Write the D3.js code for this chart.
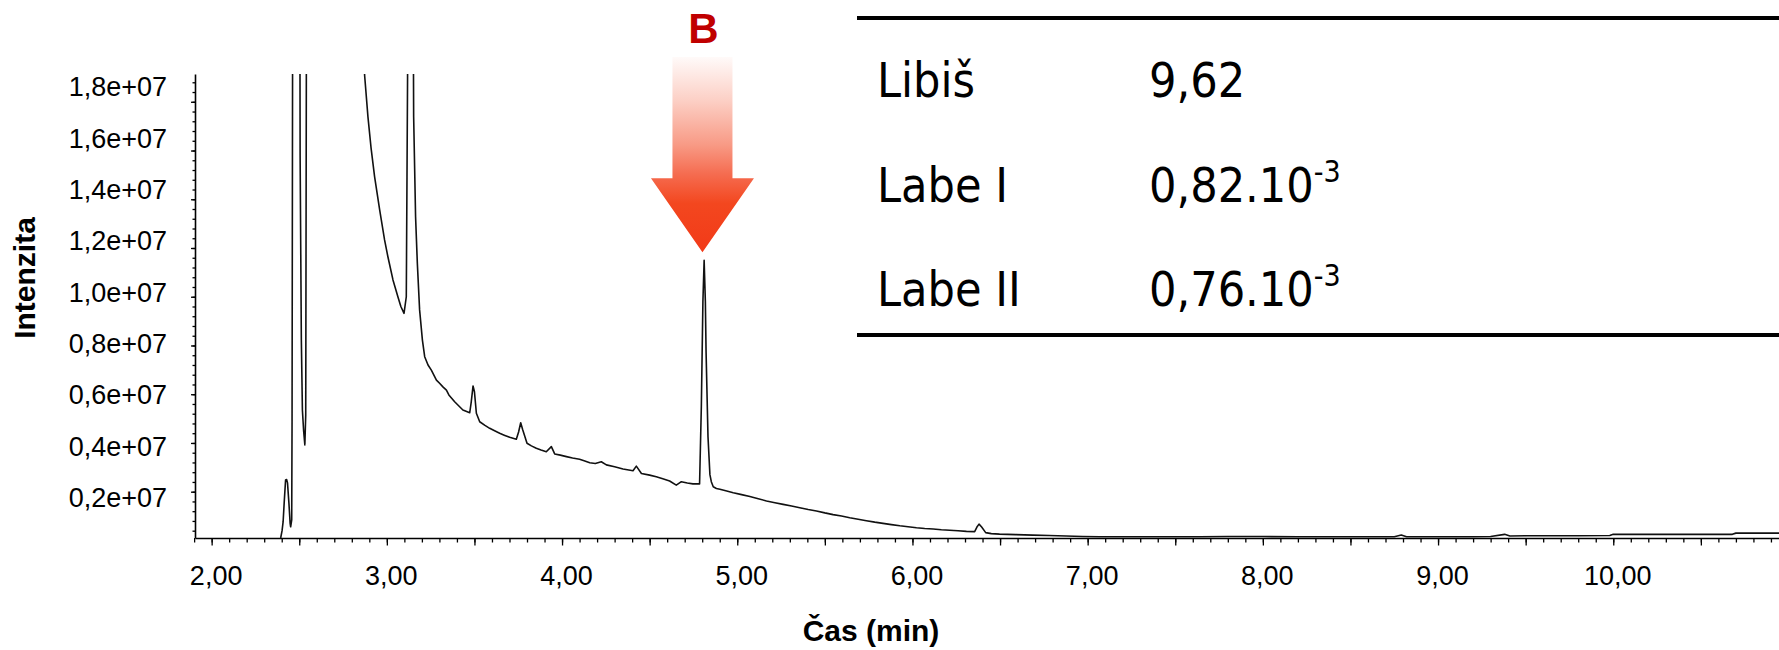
<!DOCTYPE html>
<html>
<head>
<meta charset="utf-8">
<script src="https://cdnjs.cloudflare.com/ajax/libs/d3/7.8.5/d3.min.js"></script>
<style>
  body { margin: 0; background: #fff; }
  .tick text { font-family: "Liberation Sans", Arial, sans-serif; font-size: 27px; fill: #000; }
  .axis-title { font-family: "Liberation Sans", Arial, sans-serif; font-size: 30px; font-weight: bold; }
  .tbl { font-family: "DejaVu Sans Condensed", "DejaVu Sans", sans-serif; font-size: 48px; fill: #000; }
</style>
</head>
<body>
<div class="chart"></div>
<script>
var svgWidth = 1779;
var svgHeight = 650;

var margin = {
  top: 74,
  right: 0,
  bottom: 112,
  left: 195
};

var width = svgWidth - margin.left - margin.right;
var height = svgHeight - margin.top - margin.bottom;

// ====== data ======
// retention time (min)
var timeMin = [
  2.394, 2.402, 2.408, 2.414, 2.422, 2.428, 2.433, 2.441, 2.448, 2.451, 2.457, 2.459, 2.463,
  2.503, 2.505, 2.512, 2.518, 2.525, 2.532, 2.537, 2.542,
  2.86, 2.873, 2.892, 2.91, 2.93, 2.959, 2.987, 3.006, 3.035, 3.063, 3.08, 3.098, 3.111, 3.115, 3.123,
  3.149, 3.153, 3.164, 3.174, 3.187, 3.203, 3.216, 3.235, 3.254, 3.283, 3.301, 3.32, 3.34, 3.354,
  3.387, 3.434, 3.473, 3.482, 3.492, 3.5, 3.511, 3.53, 3.56, 3.587, 3.615, 3.644, 3.67, 3.701,
  3.739, 3.752, 3.764, 3.775, 3.8, 3.825, 3.853, 3.88, 3.91, 3.939, 3.958, 3.99, 4.025, 4.06,
  4.1, 4.13, 4.158, 4.19, 4.224, 4.253, 4.3, 4.348, 4.405, 4.424, 4.453, 4.5, 4.538, 4.575,
  4.614, 4.652, 4.681, 4.715, 4.747, 4.785, 4.795, 4.804, 4.811, 4.818, 4.822, 4.833, 4.844,
  4.852, 4.863, 4.881, 4.901, 4.94, 4.977, 5.025, 5.072, 5.12, 5.167, 5.215, 5.262, 5.31,
  5.357, 5.405, 5.452, 5.5, 5.547, 5.595, 5.642, 5.69, 5.737, 5.785, 5.832, 5.88, 5.928,
  5.975, 6.023, 6.07, 6.118, 6.165, 6.213, 6.26, 6.308, 6.355, 6.368, 6.38, 6.395, 6.418,
  6.45, 6.497, 6.59, 6.687, 6.78, 6.877, 6.97, 7.068, 7.3, 7.638, 7.8, 8.0, 8.2, 8.5, 8.75,
  8.79, 8.82, 9.2, 9.3, 9.38, 9.41, 9.5, 9.8, 9.98, 10.0, 10.5, 10.68, 10.7, 10.946
];
// intensity (x 1e7); 2.5 = off scale, clipped at the top
var intensity = [
  0.01, 0.04, 0.077, 0.154, 0.248, 0.25, 0.236, 0.154, 0.07, 0.056, 0.084, 0.494, 2.5,
  2.5, 1.58, 0.822, 0.535, 0.45, 0.392, 0.515, 2.5,
  2.5, 1.91, 1.739, 1.61, 1.493, 1.356, 1.233, 1.164, 1.069, 1.0, 0.96, 0.932, 1.0, 1.49, 2.5,
  2.5, 1.739, 1.328, 1.138, 0.946, 0.822, 0.754, 0.72, 0.699, 0.658, 0.645, 0.63, 0.617, 0.597,
  0.569, 0.535, 0.524, 0.57, 0.634, 0.61, 0.522, 0.487, 0.472, 0.46, 0.45, 0.44, 0.432, 0.423,
  0.415, 0.445, 0.483, 0.455, 0.399, 0.388, 0.378, 0.371, 0.364, 0.385, 0.355, 0.35, 0.344, 0.338,
  0.333, 0.326, 0.319, 0.316, 0.323, 0.31, 0.302, 0.293, 0.286, 0.305, 0.275, 0.268, 0.261, 0.253,
  0.244, 0.227, 0.241, 0.236, 0.232, 0.232, 0.549, 0.98, 1.15, 0.98, 0.775, 0.426, 0.27,
  0.241, 0.22, 0.213, 0.21, 0.203, 0.196, 0.188, 0.18, 0.171, 0.162, 0.155, 0.148, 0.141,
  0.134, 0.127, 0.121, 0.113, 0.106, 0.1, 0.093, 0.087, 0.081, 0.075, 0.07, 0.065, 0.06,
  0.056, 0.052, 0.049, 0.047, 0.044, 0.042, 0.04, 0.037, 0.036, 0.055, 0.067, 0.055, 0.032,
  0.028, 0.026, 0.024, 0.022, 0.02, 0.018, 0.016, 0.015, 0.015, 0.015, 0.016, 0.016, 0.015, 0.015, 0.015,
  0.022, 0.015, 0.015, 0.016, 0.025, 0.018, 0.019, 0.019, 0.02, 0.025, 0.025, 0.025, 0.03, 0.03
];

var xTicks = [2, 3, 4, 5, 6, 7, 8, 9, 10];
var xTickLabels = ["2,00", "3,00", "4,00", "5,00", "6,00", "7,00", "8,00", "9,00", "10,00"];
var yTicks = [0.2, 0.4, 0.6, 0.8, 1.0, 1.2, 1.4, 1.6, 1.8];
var yTickLabels = ["0,2e+07", "0,4e+07", "0,6e+07", "0,8e+07", "1,0e+07", "1,2e+07", "1,4e+07", "1,6e+07", "1,8e+07"];

var peakTime = 4.81;
var peakLabel = "B";

var sampleNames = ["Libiš", "Labe I", "Labe II"];
var sampleValues = ["9,62", "0,82.10", "0,76.10"];
var sampleExp = ["", "-3", "-3"];

// ====== svg ======
var svg = d3
  .select(".chart")
  .append("svg")
  .attr("width", svgWidth)
  .attr("height", svgHeight);

var chartGroup = svg.append("g")
  .attr("transform", `translate(${margin.left}, ${margin.top})`);

// scales
var xLinearScale = d3.scaleLinear()
  .domain([1.905, 10.946])
  .range([0, width]);

var yLinearScale = d3.scaleLinear()
  .domain([0.01, 1.914])
  .range([height, 0]);

// tick labels of the original sit a little off the ticks
var yLabelScale = d3.scaleLinear()
  .domain([0.2, 1.8])
  .range([424, 13]);

// clip for the off-scale peaks
svg.append("defs").append("clipPath")
  .attr("id", "plotclip")
  .append("rect")
  .attr("x", 0)
  .attr("y", 0)
  .attr("width", width)
  .attr("height", height);

// x axis: minor, major, labels
var xMinor = d3.range(19, 110).map(d => d / 10);
var xMajor = d3.range(4, 22).map(d => d / 2);

chartGroup.append("g")
  .attr("transform", `translate(0, ${height})`)
  .call(d3.axisBottom(xLinearScale).tickValues(xMinor).tickSize(4.5).tickSizeOuter(0).tickFormat(""))
  .call(g => g.select(".domain").remove());

var xAxis = chartGroup.append("g")
  .attr("transform", `translate(0, ${height})`)
  .call(d3.axisBottom(xLinearScale).tickValues(xMajor).tickSize(7.5).tickSizeOuter(0).tickFormat(""));

chartGroup.append("g")
  .attr("transform", `translate(4, ${height})`)
  .call(d3.axisBottom(xLinearScale).tickValues(xTicks).tickSize(0).tickPadding(28)
    .tickFormat((d, i) => xTickLabels[i]))
  .call(g => g.select(".domain").remove());

// y axis: minor, major, labels
var yMinor = d3.range(1, 48).map(d => d * 0.04);

chartGroup.append("g")
  .call(d3.axisLeft(yLinearScale).tickValues(yMinor).tickSize(2.5).tickSizeOuter(0).tickFormat(""))
  .call(g => g.select(".domain").remove());

var yAxis = chartGroup.append("g")
  .call(d3.axisLeft(yLinearScale).tickValues(yTicks).tickSize(4).tickSizeOuter(0).tickFormat(""));

chartGroup.append("g")
  .call(d3.axisLeft(yLabelScale).tickValues(yTicks).tickSize(0).tickPadding(28)
    .tickFormat((d, i) => yTickLabels[i]))
  .call(g => g.select(".domain").remove());

chartGroup.selectAll(".domain").attr("stroke", "#000").attr("stroke-width", 1.6);
chartGroup.selectAll(".tick line").attr("stroke", "#000").attr("stroke-width", 1.3);

// trace
var line = d3.line()
  .x((d, i) => xLinearScale(timeMin[i]))
  .y(d => yLinearScale(d));

chartGroup.append("path")
  .datum(intensity)
  .attr("clip-path", "url(#plotclip)")
  .attr("fill", "none")
  .attr("stroke", "#111")
  .attr("stroke-width", 1.6)
  .attr("stroke-linejoin", "round")
  .attr("d", line);

// axis titles
svg.append("text")
  .attr("class", "axis-title")
  .attr("transform", "translate(35, 278) rotate(-90)")
  .attr("text-anchor", "middle")
  .text("Intenzita");

svg.append("text")
  .attr("class", "axis-title")
  .attr("x", 871)
  .attr("y", 641)
  .attr("text-anchor", "middle")
  .text("Čas (min)");

// arrow pointing at peak B
var grad = svg.select("defs").append("linearGradient")
  .attr("id", "arrowgrad")
  .attr("x1", 0).attr("y1", 0).attr("x2", 0).attr("y2", 1);
[[0, "#fffaf9"], [0.22, "#fcd0c6"], [0.45, "#f89a85"], [0.6, "#f56c50"], [0.75, "#f3471f"], [1, "#f23a18"]]
  .forEach(s => grad.append("stop").attr("offset", s[0]).attr("stop-color", s[1]));

var peakTop = d3.max(intensity.filter((d, i) => Math.abs(timeMin[i] - peakTime) < 0.05));
var tipX = margin.left + xLinearScale(peakTime) - 1.5;
var tipY = margin.top + yLinearScale(peakTop) - 8;
var shaftW = 30, headW = 51.5, headH = 74, shaftTop = 57;

svg.append("path")
  .attr("fill", "url(#arrowgrad)")
  .attr("d", `M${tipX - shaftW},${shaftTop} L${tipX + shaftW},${shaftTop} L${tipX + shaftW},${tipY - headH}
    L${tipX + headW},${tipY - headH} L${tipX},${tipY} L${tipX - headW},${tipY - headH}
    L${tipX - shaftW},${tipY - headH} Z`);

svg.append("text")
  .attr("x", tipX + 1)
  .attr("y", 43)
  .attr("text-anchor", "middle")
  .attr("fill", "#c00000")
  .style("font-family", "'Liberation Sans', Arial, sans-serif")
  .style("font-size", "42px")
  .style("font-weight", "bold")
  .text(peakLabel);

// table
var rowY = d3.scaleLinear().domain([0, sampleNames.length - 1]).range([97, 306]);

svg.append("line")
  .attr("x1", 857).attr("x2", svgWidth)
  .attr("y1", 18).attr("y2", 18)
  .attr("stroke", "#000").attr("stroke-width", 4);

svg.append("line")
  .attr("x1", 857).attr("x2", svgWidth)
  .attr("y1", 335).attr("y2", 335)
  .attr("stroke", "#000").attr("stroke-width", 4);

sampleNames.forEach(function(name, i) {
  svg.append("text")
    .attr("class", "tbl")
    .attr("x", 877)
    .attr("y", rowY(i))
    .text(name);

  var val = svg.append("text")
    .attr("class", "tbl")
    .attr("x", 1149)
    .attr("y", rowY(i));
  val.append("tspan").text(sampleValues[i]);
  if (sampleExp[i]) {
    val.append("tspan")
      .attr("dy", -20)
      .style("font-size", "30px")
      .text(sampleExp[i]);
  }
});
</script>
</body>
</html>
